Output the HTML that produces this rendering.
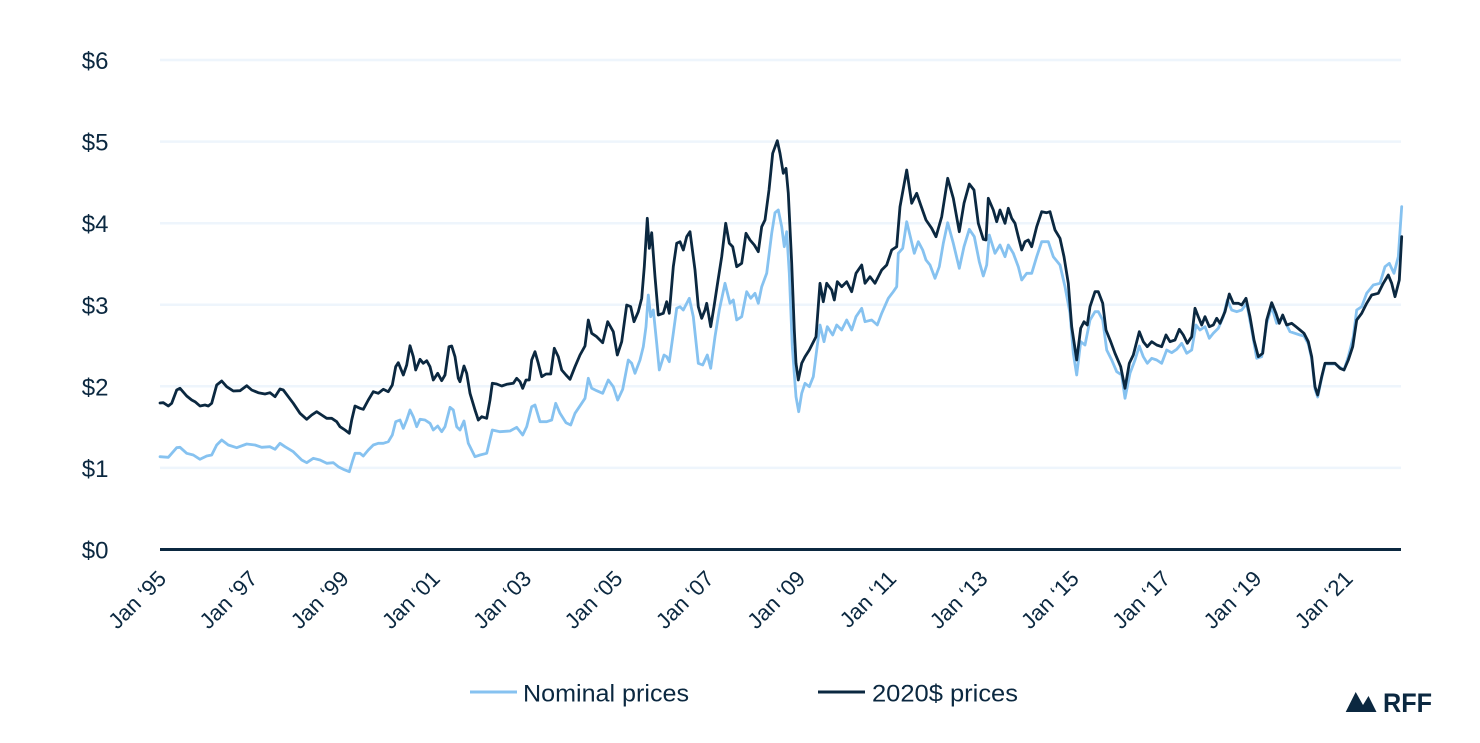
<!DOCTYPE html>
<html>
<head>
<meta charset="utf-8">
<style>
  html,body{margin:0;padding:0;background:#fff;}
  svg{display:block;}
  text{font-family:"Liberation Sans", sans-serif; fill:#0b2840;}
</style>
</head>
<body>
<svg width="1480" height="743" viewBox="0 0 1480 743" xmlns="http://www.w3.org/2000/svg">
  <rect width="1480" height="743" fill="#fff"/>
  <!-- gridlines -->
  <g stroke="#eef5fc" stroke-width="2.5">
    <line x1="160" y1="60" x2="1401" y2="60"/>
    <line x1="160" y1="141.6" x2="1401" y2="141.6"/>
    <line x1="160" y1="223.2" x2="1401" y2="223.2"/>
    <line x1="160" y1="304.8" x2="1401" y2="304.8"/>
    <line x1="160" y1="386.3" x2="1401" y2="386.3"/>
    <line x1="160" y1="467.9" x2="1401" y2="467.9"/>
  </g>
  <!-- y labels -->
  <g font-size="24" text-anchor="end">
    <text x="108.5" y="69">$6</text>
    <text x="108.5" y="150.6">$5</text>
    <text x="108.5" y="232.2">$4</text>
    <text x="108.5" y="313.8">$3</text>
    <text x="108.5" y="395.3">$2</text>
    <text x="108.5" y="476.9">$1</text>
    <text x="108.5" y="558.5">$0</text>
  </g>

  <!-- nominal series -->
  <polyline fill="none" stroke="#86c2f0" stroke-width="2.8" stroke-linejoin="round" stroke-linecap="round" points="160,456.7 168.3,457.3 176.7,447.7 180,447.3 186.7,453.3 193.3,455 200,459.3 206.7,456 211.7,455 216.7,445 221.7,440 228.3,445 236.7,447.7 246.7,444 255,445 261.7,447.3 270,446.7 275,449.3 280,443.3 285,446.7 293.3,451.7 301.7,460 306.7,462.7 313.3,458.3 320,460 326.7,463.3 333.3,462.7 338.3,466.7 343.3,469.3 349.3,471.7 352.3,461.7 355,453.3 360,453.3 363.3,456 368.3,450 373.3,445 378.3,443.3 383.3,443.3 388.3,441.7 392.3,435 395.7,421.7 400,420 403.3,428.3 406.7,420 410,410 413.3,416.7 416.7,426.7 420,419.3 425,420 430,423.3 433.3,430 437.7,426 441.7,431.7 445,426.7 450,407.3 453.3,410 456.7,426.7 460,430 464,421 468.3,443.3 475,456.7 480,455 486.7,453.3 492.3,430 500,431.7 510,431 516.7,427.3 522.7,435 526.7,426.7 531.7,406.7 535,405 540,421.7 546.7,421.7 551.7,420 555.7,403.3 560,413.3 566,422.7 570.7,425 575,413.3 581.7,403.3 585,398.3 588.3,378.3 591.7,388.3 596.7,390.7 602.7,393.3 608.3,380 613.3,386.7 617.7,400 622.7,389.3 628.3,360 631.7,363.3 635,373.3 640,360 643.3,346.7 646,326.7 648.3,295 650.7,316.7 653.3,310 656.7,343.3 659.3,370 664,355 666.7,356.7 669.3,361.7 673.3,333.3 676.7,308.3 680,306.7 683.3,310 689.3,298.3 693.3,316.7 698.3,363.3 702.7,365 707.3,355 710.7,368.3 715,336.7 719.3,310 725,283.3 730,303.3 733.3,300 736.7,320 741.7,316.7 746.7,291.7 750.7,298.3 755,293.3 758.3,303.3 761.7,286.7 766.7,273.3 771.7,233.3 775,212.7 778.3,210 781.7,226.7 784.3,246.7 786.7,231.7 789.3,273.3 792.3,346.7 796,396.7 798.7,411.7 801.7,393.3 805,383.3 809.3,386.7 813.3,376.7 816.7,350 820,325 824,341.7 827.3,326.7 832.7,335 836.7,325 841.7,330 846.7,320 851.7,330 856,316.7 861.7,308.3 865,321.7 871.7,320 877.3,325 881.7,313.3 888.3,298.3 893.3,291.7 896.7,286.7 898.3,253.3 902.7,248.3 906.7,221.7 910.7,238.3 914.3,253.3 918.3,241.7 922.7,250 926,260 930,265 935,278.3 939.3,266.7 943.3,243.3 947.7,222.7 953.3,243.3 959.3,268.3 964,246.7 969.3,229.3 974.3,236.7 979.3,261.7 983.3,276 986.7,265 989.3,235 995,253.3 1000,245 1005,256.7 1008.3,245 1013.3,253.3 1018.3,266.7 1021.7,280 1026.7,273.3 1031.7,273.3 1036.7,256.7 1041.7,241.7 1048.3,241.7 1053.3,256.7 1060,265 1065,286.7 1070,313.3 1073.3,353.3 1076.7,375 1080.7,341.7 1085,345 1090,320 1095,311.7 1098.3,311.7 1102.7,320 1106.7,350 1111.7,360 1116.7,371.7 1121.7,375 1125,398.3 1130,373.3 1135,360 1139.3,346 1143.3,356.7 1147.3,363.3 1151.7,358.3 1156.7,360 1161.7,363.3 1166.7,350 1171.7,352.7 1176.7,349.3 1181.7,343.3 1186.7,353.3 1191.7,350 1196,325 1200,330 1205,326.7 1209.3,338.3 1213.3,333.3 1218.3,328.3 1223.3,316.7 1227.3,300 1231.7,310 1236.7,311.7 1241.7,310 1246.7,303.3 1251.7,330 1256.7,358.3 1261.7,356.7 1266.7,323.3 1271.7,306.7 1276.7,323.3 1282.7,317 1290,331.7 1300,335 1304,336 1308.3,344 1311.7,359 1315,389 1317.7,397 1321.7,378 1325,364 1335,364 1344,370 1348.3,356.7 1353.3,336.7 1356.7,310 1361.7,306.7 1366.7,293.3 1373.3,285 1380,283.3 1385,266.7 1389.3,263.3 1394,273.3 1398.3,256.7 1401.7,206.7"/>

  <!-- real series -->
  <polyline fill="none" stroke="#0b2840" stroke-width="2.8" stroke-linejoin="round" stroke-linecap="round" points="160,403 163.3,402.7 168.3,406 171.7,403.3 176.7,390 180,388.3 186.7,396 191.7,400 195,401.7 200,406 205,405 208.3,406 211.7,403.3 216.7,385 221.7,381 226.7,386.7 233.3,391 240,390.7 246.7,385.7 251.7,390 258.3,392.7 265,394 270,392.7 275,396.7 280,389 283.3,390 288.3,396.7 293.3,403.3 300,413.3 306.7,419.3 311.7,415 316.7,411.7 321.7,415 326.7,418.3 331.7,418.3 336.7,421.7 340,426.7 345,430 349.3,433.3 351.7,420 355,406 360,408.3 363.3,409.3 368.3,400 373.3,391.7 378.3,393.3 383.3,389.3 388.3,391.7 392.3,385 395.7,366.7 398.3,362.7 403.3,375 406.7,365 410,345.7 413.3,356.7 415.7,370 420,359.3 423.3,363.3 426.7,360.7 430,366.7 433.3,380 437.7,373.3 441.7,380.7 445,375 449,346.7 451.7,346 455,356.7 458.3,378.3 460,381.7 464,366 466.7,373.3 470,393.3 475,410 478.3,420 481.7,416.7 486.7,418.3 490,400 492.3,383.3 496.7,384 501.7,386 506.7,384.3 513.3,383.3 516.7,378.3 520,381.7 522.7,388.3 526,380 529.3,380 531.7,360 535,351.7 538.3,363.3 541.7,376.7 546,374 550.7,374 554.3,348.3 558.3,356.7 561.7,370 566,375 570,379.3 575,366.7 580,355 585,346 588.3,320 591.7,333.3 596.7,336.7 602.7,342.7 607.7,321.7 613.3,331.7 617.3,355 621.7,341.7 626.7,305 630.7,306.7 634,321.7 638.3,311.7 641.7,298.3 644.3,266.7 647.3,218.3 649.3,248.3 651.7,232.7 655,276.7 658.3,315 663.3,313.3 666.7,301.7 669.3,313.3 673.3,266.7 676.7,243.3 680,241.7 683.3,250 686.7,236.7 690,231.7 695,270 698.3,306.7 701.7,318.3 705,310 706.7,303.3 710.7,326.7 714,306.7 717.3,285 721.7,256.7 725.7,223.3 729.3,243.3 732.7,246.7 736.7,266.7 741.7,263.3 746,233.3 750,240 754.3,245 758.3,251.7 761.7,226.7 765,220 769,190 772.7,153.3 777.3,140.7 780,153.3 783.3,173.3 786,168.3 788.3,193.3 791.7,263.3 794.3,330 796,363.3 798.3,380 801.7,363.3 805,356.7 809.3,350 812.7,343.3 816,336.7 820,283.3 823.3,301.7 826.7,283.3 831.7,290 834.3,300 837.3,281.7 841.7,286.7 846.7,281.7 851.7,291.7 856,273.3 861.7,265 865,283.3 870,276.7 875,283.3 881.7,270 886.7,265 891.7,250 896.7,246.7 900,206.7 906.7,170 911.7,203.3 916.7,193.3 920.7,205 926,220 931.7,228.3 936,236.7 941.7,216.7 947.7,178.3 953.3,198.3 959.3,231.7 964,203.3 969.3,184 974,190 978.3,223.3 983.3,239.3 986,240 988.3,198.3 993.3,210 996.7,221.7 1000,210 1005,223.3 1008.3,208.3 1011.7,218.3 1015,223.3 1018.3,236.7 1021.7,250 1025,241.7 1028.3,240 1031.7,246.7 1036.7,226.7 1041.7,211.7 1046.7,212.7 1050,211.7 1055,230 1060,238.3 1064,256.7 1068.3,283.3 1071.7,326.7 1076.7,360 1080.7,328.3 1084,321.7 1087.3,325 1090,306.7 1095,291.7 1098.3,291.7 1102.7,303.3 1106,330 1110.7,341.7 1115,353.3 1120.7,366.7 1125,388.3 1129.3,363.3 1133.3,355 1139.3,331.7 1143.3,341.7 1147.3,346.7 1151.7,341.7 1156.7,345 1161.7,346.7 1166,335 1170,341.7 1175,340 1179.3,329.3 1183.3,335 1187.3,343.3 1191.7,336.7 1195,308.3 1198.3,316.7 1201.7,325 1205,316.7 1209.3,326.7 1213.3,325 1216.7,318.3 1220,323.3 1225,311.7 1229.3,294 1233.3,303.3 1238.3,303.3 1241.7,305 1246,298.3 1250,316.7 1254,340 1258.3,356.7 1262.7,353.3 1266.7,320 1271.7,302.7 1276,313.3 1279.3,323.3 1282.7,315 1286.7,325 1291.7,323.3 1296,326.7 1300,330 1304,333.3 1308.3,341.7 1311.7,356.7 1315,386.7 1317.7,395 1321.7,376.7 1325,363.3 1330,363.3 1335,363.3 1340,368.3 1344,370 1348.3,360 1352.7,346.7 1356.7,320 1361.7,313.3 1366.7,303.3 1371.7,295 1378.3,293.3 1383.3,283.3 1388.3,275 1391.7,283.3 1395,296.7 1399.3,280 1401.7,236.7"/>

  <!-- x axis -->
  <line x1="160" y1="549.5" x2="1401" y2="549.5" stroke="#0b2840" stroke-width="3"/>

  <!-- x labels -->
  <g font-size="22" text-anchor="end">
    <text transform="translate(167.5,580) rotate(-45)">Jan ‘95</text>
    <text transform="translate(258.8,580) rotate(-45)">Jan ‘97</text>
    <text transform="translate(350.1,580) rotate(-45)">Jan ‘99</text>
    <text transform="translate(441.3,580) rotate(-45)">Jan ‘01</text>
    <text transform="translate(532.6,580) rotate(-45)">Jan ‘03</text>
    <text transform="translate(623.9,580) rotate(-45)">Jan ‘05</text>
    <text transform="translate(715.2,580) rotate(-45)">Jan ‘07</text>
    <text transform="translate(806.5,580) rotate(-45)">Jan ‘09</text>
    <text transform="translate(897.7,580) rotate(-45)">Jan ‘11</text>
    <text transform="translate(989,580) rotate(-45)">Jan ‘13</text>
    <text transform="translate(1080.3,580) rotate(-45)">Jan ‘15</text>
    <text transform="translate(1171.6,580) rotate(-45)">Jan ‘17</text>
    <text transform="translate(1262.9,580) rotate(-45)">Jan ‘19</text>
    <text transform="translate(1354.1,580) rotate(-45)">Jan ‘21</text>
  </g>

  <!-- legend -->
  <line x1="470" y1="692" x2="517" y2="692" stroke="#86c2f0" stroke-width="3"/>
  <text x="523" y="701.5" font-size="24" textLength="166" lengthAdjust="spacingAndGlyphs">Nominal prices</text>
  <line x1="818" y1="692" x2="865" y2="692" stroke="#0b2840" stroke-width="3"/>
  <text x="872" y="701.5" font-size="24" textLength="146" lengthAdjust="spacingAndGlyphs">2020$ prices</text>

  <!-- RFF logo -->
  <path d="M1345.7,712 L1355.7,692 L1363,705 L1368.5,696 L1376.5,712 Z" fill="#0b2840"/>
  <text x="1383" y="712" font-size="27" font-weight="bold" textLength="49" lengthAdjust="spacingAndGlyphs">RFF</text>
</svg>
</body>
</html>
